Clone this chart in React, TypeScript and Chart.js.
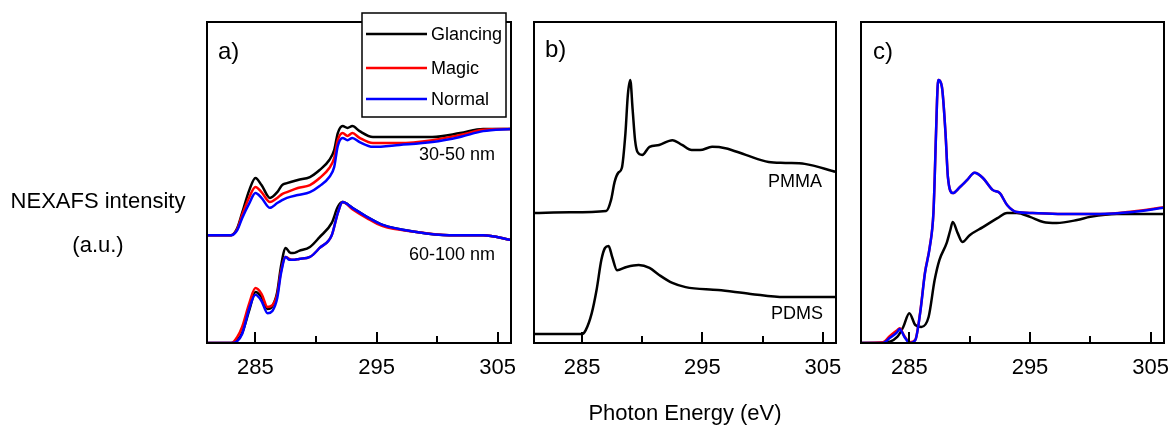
import React, { useEffect, useRef } from 'react';
import { Chart, registerables } from 'chart.js';
Chart.register(...registerables);

const FONT = "'Liberation Sans', Arial, Helvetica, sans-serif";
const W = 1171;
const H = 427;

// axis
const xMin = 281;
const xMax = 306.1;
const tickValues = [285, 290, 295, 300, 305];
const tickLabels = ['285', '', '295', '', '305'];

type P = [number, number];

// panel a) 30-50 nm
const glancing3050: P[] = [
  [281, 0.336], [283.0, 0.336], [283.5, 0.358], [283.9, 0.405], [284.5, 0.477], [285.0, 0.514],
  [285.5, 0.492], [286.2, 0.452], [286.8, 0.470], [287.2, 0.492], [287.6, 0.498], [288.5, 0.508],
  [289.5, 0.517], [290.3, 0.539], [291.1, 0.570], [291.5, 0.601], [291.8, 0.654], [292.2, 0.676],
  [292.6, 0.670], [293.0, 0.676], [293.6, 0.660], [294.7, 0.642], [296.9, 0.642], [299.6, 0.642],
  [301.9, 0.654], [303.8, 0.667], [306.1, 0.667],
];
const magic3050: P[] = [
  [281, 0.336], [283.0, 0.336], [283.5, 0.355], [283.9, 0.399], [284.5, 0.455], [285.0, 0.486],
  [285.5, 0.470], [286.2, 0.439], [286.8, 0.452], [287.2, 0.464], [287.6, 0.470], [288.5, 0.483],
  [289.5, 0.492], [290.3, 0.514], [291.1, 0.545], [291.5, 0.576], [291.8, 0.632], [292.2, 0.654],
  [292.6, 0.645], [293.0, 0.654], [293.6, 0.639], [294.7, 0.623], [296.9, 0.623], [299.6, 0.632],
  [301.9, 0.648], [303.8, 0.664], [306.1, 0.667],
];
const normal3050: P[] = [
  [281, 0.336], [283.0, 0.336], [283.5, 0.352], [283.9, 0.389], [284.5, 0.436], [285.0, 0.467],
  [285.5, 0.452], [286.2, 0.421], [286.8, 0.436], [287.2, 0.445], [287.6, 0.452], [288.5, 0.461],
  [289.5, 0.470], [290.3, 0.489], [291.1, 0.517], [291.5, 0.548], [291.8, 0.614], [292.2, 0.639],
  [292.6, 0.632], [293.0, 0.639], [293.6, 0.626], [294.7, 0.611], [296.9, 0.617], [299.6, 0.626],
  [301.9, 0.642], [303.8, 0.660], [306.1, 0.667],
];

// panel a) 60-100 nm
const glancing60100: P[] = [
  [281, 0], [283.0, 0], [283.5, 0.009], [283.9, 0.031], [284.5, 0.103], [285.0, 0.159],
  [285.5, 0.143], [286.0, 0.106], [286.4, 0.115], [286.8, 0.159], [287.1, 0.237], [287.5, 0.296],
  [287.8, 0.283], [288.1, 0.280], [288.6, 0.287], [289.5, 0.299], [290.3, 0.330], [291.3, 0.374],
  [291.8, 0.424], [292.2, 0.439], [293.0, 0.421], [294.2, 0.393], [295.5, 0.368], [298.3, 0.346],
  [301.0, 0.336], [303.8, 0.336], [306.1, 0.321],
];
const magic60100: P[] = [
  [281, 0], [283.0, 0], [283.5, 0.019], [283.9, 0.050], [284.5, 0.125], [285.0, 0.171],
  [285.5, 0.153], [286.0, 0.112], [286.4, 0.118], [286.8, 0.150], [287.1, 0.221], [287.5, 0.268],
  [287.8, 0.262], [288.1, 0.259], [288.6, 0.262], [289.5, 0.268], [290.3, 0.296], [291.3, 0.336],
  [291.8, 0.405], [292.2, 0.439], [293.0, 0.417], [294.2, 0.389], [295.5, 0.364], [298.3, 0.346],
  [301.0, 0.336], [303.8, 0.336], [306.1, 0.321],
];
const normal60100: P[] = [
  [281, 0], [283.0, 0], [283.5, 0.006], [283.9, 0.028], [284.5, 0.109], [285.0, 0.150],
  [285.5, 0.131], [286.0, 0.093], [286.4, 0.100], [286.8, 0.140], [287.1, 0.215], [287.5, 0.268],
  [287.8, 0.259], [288.1, 0.259], [288.6, 0.262], [289.5, 0.268], [290.3, 0.296], [291.3, 0.336],
  [291.8, 0.405], [292.2, 0.439], [293.0, 0.421], [294.2, 0.393], [295.5, 0.368], [298.3, 0.346],
  [301.0, 0.336], [303.8, 0.336], [306.1, 0.321],
];

// panel b) references
const pmma: P[] = [
  [281, 0.405], [284.0, 0.407], [287.0, 0.411], [287.4, 0.445], [287.7, 0.502], [288.0, 0.530],
  [288.3, 0.545], [288.6, 0.654], [288.8, 0.773], [289.0, 0.819], [289.2, 0.726], [289.4, 0.632],
  [289.6, 0.595], [290.0, 0.586], [290.6, 0.611], [291.4, 0.617], [292.5, 0.632], [293.3, 0.617],
  [294.1, 0.601], [294.8, 0.601], [295.8, 0.611], [296.9, 0.607], [298.6, 0.586], [300.5, 0.564],
  [301.9, 0.561], [303.5, 0.558], [306.1, 0.533],
];
const pdms: P[] = [
  [281, 0.028], [285.0, 0.028], [285.3, 0.040], [285.8, 0.093], [286.2, 0.165], [286.6, 0.259],
  [286.9, 0.296], [287.2, 0.302], [287.5, 0.268], [287.9, 0.227], [288.7, 0.237], [289.7, 0.243],
  [290.6, 0.234], [291.4, 0.212], [292.5, 0.187], [293.6, 0.174], [296.3, 0.165], [299.0, 0.153],
  [301.8, 0.143], [306.1, 0.143],
];

// panel c)
const glancingC: P[] = [
  [281, 0], [282.8, 0], [284.0, 0.019], [284.5, 0.050], [285.0, 0.093], [285.5, 0.056],
  [286.0, 0.050], [286.6, 0.081], [287.1, 0.196], [287.5, 0.259], [288.1, 0.312], [288.4, 0.352],
  [288.6, 0.377], [289.0, 0.343], [289.4, 0.315], [290.0, 0.336], [291.1, 0.361], [292.3, 0.389],
  [293.1, 0.405], [293.9, 0.405], [295.0, 0.393], [296.1, 0.377], [297.2, 0.374], [298.9, 0.383],
  [300.0, 0.393], [302.2, 0.402], [306.1, 0.402],
];
const magicC: P[] = [
  [281, 0], [282.8, 0.002], [283.4, 0.022], [284.0, 0.040], [284.2, 0.046], [284.6, 0.021],
  [285.05, 0.002], [285.5, 0.010], [285.9, 0.095], [286.3, 0.220], [286.7, 0.301], [287.0, 0.405],
  [287.1, 0.508], [287.3, 0.757], [287.4, 0.819], [287.7, 0.798], [288.0, 0.654], [288.2, 0.517],
  [288.6, 0.467], [289.2, 0.486], [289.8, 0.508], [290.4, 0.530], [291.1, 0.514], [291.9, 0.477],
  [292.5, 0.467], [293.1, 0.430], [293.9, 0.408], [295.2, 0.405], [298.0, 0.402], [300.8, 0.402],
  [303.5, 0.410], [306.1, 0.423],
];
const normalC: P[] = [
  [281, 0], [282.8, 0], [283.4, 0.016], [284.0, 0.034], [284.2, 0.044], [284.6, 0.019],
  [285.05, 0], [285.5, 0.009], [285.9, 0.093], [286.3, 0.218], [286.7, 0.299], [287.0, 0.405],
  [287.1, 0.508], [287.3, 0.757], [287.4, 0.819], [287.7, 0.798], [288.0, 0.654], [288.2, 0.517],
  [288.6, 0.467], [289.2, 0.486], [289.8, 0.508], [290.4, 0.530], [291.1, 0.514], [291.9, 0.477],
  [292.5, 0.467], [293.1, 0.430], [293.9, 0.408], [295.2, 0.405], [298.0, 0.402], [300.8, 0.402],
  [303.5, 0.408], [306.1, 0.421],
];

const seriesNames = ['Glancing', 'Magic', 'Normal'];
const seriesColors = ['#000000', '#ff0000', '#0000ff'];

type TextItem = { text: string; x: number; y: number; size: number; align?: CanvasTextAlign };

const framePlugin = {
  id: 'frame',
  afterDraw(chart: any, _args: any, opts: any) {
    const { ctx, chartArea: a, scales } = chart;
    const x = scales.x;
    ctx.save();
    ctx.strokeStyle = '#000';
    ctx.lineWidth = 2;
    ctx.strokeRect(a.left, a.top, a.right - a.left, a.bottom - a.top);
    tickValues.forEach((v, i) => {
      const px = Math.round(x.getPixelForValue(v));
      const len = tickLabels[i] ? 11 : 7;
      ctx.beginPath();
      ctx.moveTo(px, a.bottom);
      ctx.lineTo(px, a.bottom - len);
      ctx.stroke();
    });
    if (opts.legend) {
      const L = opts.legend;
      ctx.fillStyle = '#fff';
      ctx.fillRect(L.x, L.y, L.w, L.h);
      ctx.lineWidth = 1.5;
      ctx.strokeStyle = '#000';
      ctx.strokeRect(L.x, L.y, L.w, L.h);
      seriesNames.forEach((name, i) => {
        const yy = L.rows[i];
        ctx.strokeStyle = seriesColors[i];
        ctx.lineWidth = 2.5;
        ctx.beginPath();
        ctx.moveTo(L.x + 4, yy);
        ctx.lineTo(L.x + 65, yy);
        ctx.stroke();
        ctx.fillStyle = '#000';
        ctx.font = `18px ${FONT}`;
        ctx.textAlign = 'left';
        ctx.textBaseline = 'middle';
        ctx.fillText(name, L.x + 69, yy + 1);
      });
    }
    (opts.texts || []).forEach((t: TextItem) => {
      ctx.fillStyle = '#000';
      ctx.font = `${t.size}px ${FONT}`;
      ctx.textAlign = t.align || 'center';
      ctx.textBaseline = 'middle';
      ctx.fillText(t.text, t.x, t.y);
    });
    ctx.restore();
  },
};

function line(data: P[], color: string, order: number, label: string) {
  return {
    label,
    data: data.map(([x, y]) => ({ x, y })),
    borderColor: color,
    backgroundColor: color,
    borderWidth: 2.5,
    pointRadius: 0,
    cubicInterpolationMode: 'monotone' as const,
    order,
  };
}

function makeConfig(datasets: any[], left: number, right: number, frameOpts: any, xTitle?: string) {
  return {
    type: 'line' as const,
    data: { datasets },
    plugins: [framePlugin],
    options: {
      animation: false as const,
      responsive: false,
      devicePixelRatio: 1,
      layout: { padding: { left, right: W - right, top: 22, bottom: 0 } },
      plugins: { legend: { display: false }, tooltip: { enabled: false }, frame: frameOpts },
      scales: {
        x: {
          type: 'linear' as const,
          min: xMin,
          max: xMax,
          afterBuildTicks: (s: any) => {
            s.ticks = tickValues.map((v) => ({ value: v }));
          },
          afterFit: (s: any) => {
            s.height = H - 343;
            s.paddingLeft = 0;
            s.paddingRight = 0;
          },
          grid: { display: false, drawTicks: false, tickLength: 0 },
          border: { display: false },
          ticks: {
            autoSkip: false,
            maxRotation: 0,
            minRotation: 0,
            padding: 12,
            color: '#000',
            font: { family: FONT, size: 22 },
            callback: (v: any) => {
              const i = tickValues.indexOf(Number(v));
              return i >= 0 ? tickLabels[i] : '';
            },
          },
          title: xTitle
            ? {
                display: true,
                text: xTitle,
                color: '#000',
                font: { family: FONT, size: 22 },
                padding: { top: 0, bottom: 0 },
              }
            : { display: false },
        },
        y: { display: false, min: 0, max: 1 },
      },
    },
  };
}

function Panel({ config }: { config: any }) {
  const ref = useRef<HTMLCanvasElement>(null);
  useEffect(() => {
    if (!ref.current) return;
    const chart = new Chart(ref.current, config);
    return () => chart.destroy();
  }, [config]);
  return (
    <canvas
      ref={ref}
      width={W}
      height={H}
      style={{ position: 'absolute', left: 0, top: 0, width: W, height: H }}
    />
  );
}

const configA = makeConfig(
  [
    line(glancing3050, seriesColors[0], 3, 'Glancing'),
    line(magic3050, seriesColors[1], 2, 'Magic'),
    line(normal3050, seriesColors[2], 1, 'Normal'),
    line(glancing60100, seriesColors[0], 3, 'Glancing'),
    line(magic60100, seriesColors[1], 2, 'Magic'),
    line(normal60100, seriesColors[2], 1, 'Normal'),
  ],
  207,
  511,
  {
    legend: { x: 362, y: 13, w: 144, h: 104, rows: [34, 68, 99] },
    texts: [
      { text: 'a)', x: 218, y: 52, size: 24, align: 'left' },
      { text: '30-50 nm', x: 457, y: 155, size: 18 },
      { text: '60-100 nm', x: 452, y: 255, size: 18 },
      { text: 'NEXAFS intensity', x: 98, y: 202, size: 22 },
      { text: '(a.u.)', x: 98, y: 246, size: 22 },
    ],
  }
);

const configB = makeConfig(
  [line(pmma, '#000', 1, 'PMMA'), line(pdms, '#000', 1, 'PDMS')],
  534,
  836,
  {
    texts: [
      { text: 'b)', x: 545, y: 50, size: 24, align: 'left' },
      { text: 'PMMA', x: 795, y: 182, size: 18 },
      { text: 'PDMS', x: 797, y: 314, size: 18 },
    ],
  },
  'Photon Energy (eV)'
);

const configC = makeConfig(
  [
    line(glancingC, seriesColors[0], 3, 'Glancing'),
    line(magicC, seriesColors[1], 2, 'Magic'),
    line(normalC, seriesColors[2], 1, 'Normal'),
  ],
  861,
  1164,
  { texts: [{ text: 'c)', x: 873, y: 52, size: 24, align: 'left' }] }
);

export default function App() {
  return (
    <div style={{ position: 'absolute', left: 0, top: 0, width: W, height: H, background: '#fff', overflow: 'hidden' }}>
      <Panel config={configA} />
      <Panel config={configB} />
      <Panel config={configC} />
    </div>
  );
}
